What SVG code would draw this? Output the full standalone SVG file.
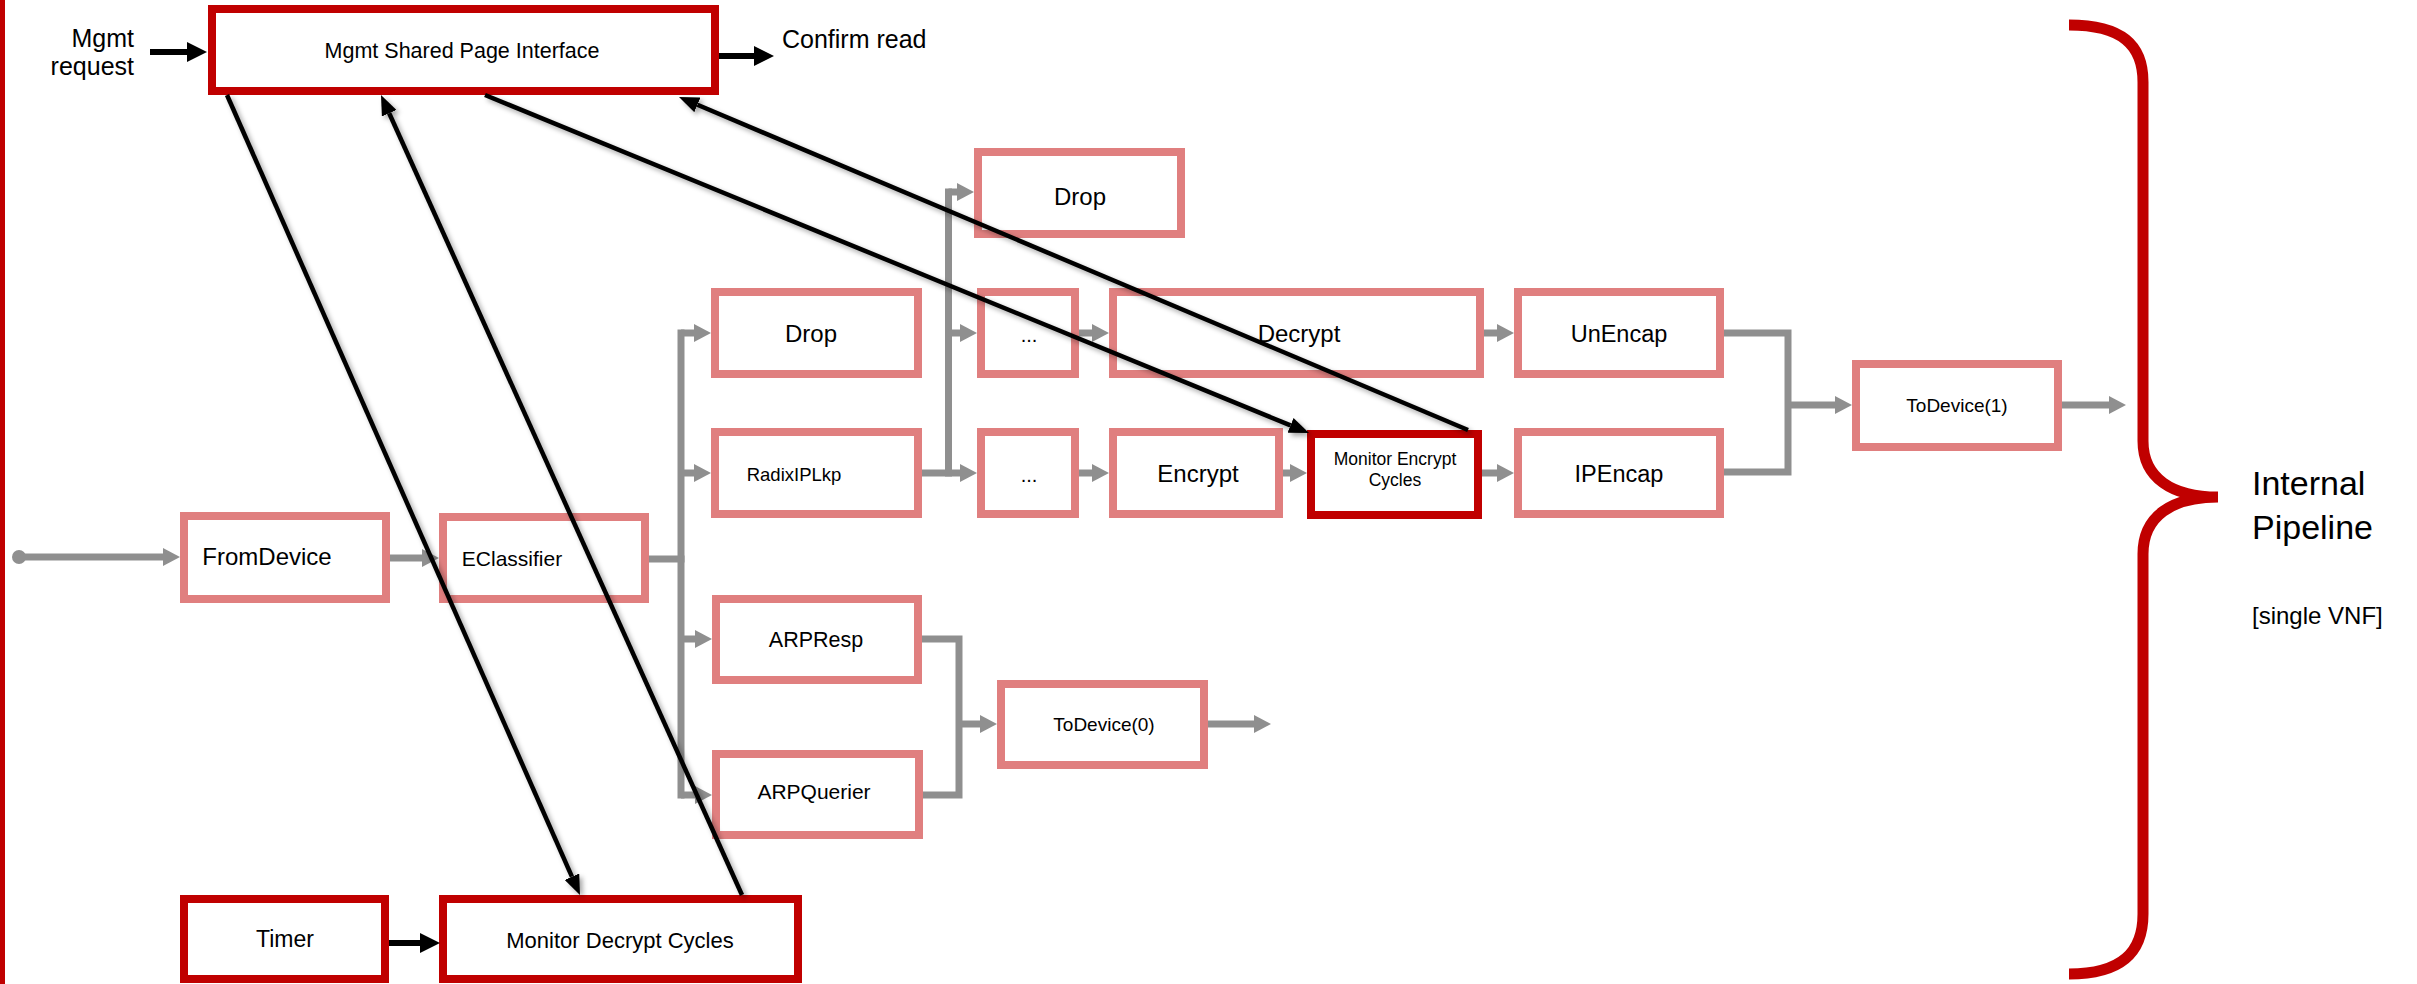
<svg xmlns="http://www.w3.org/2000/svg" width="2417" height="984" viewBox="0 0 2417 984">
<style>
  .pink { fill: #ffffff; stroke: #E07F7F; stroke-width: 8; }
  .dark { fill: #ffffff; stroke: #C00000; stroke-width: 8; }
  .lbl { font-family: "Liberation Sans", Arial, sans-serif; fill: #000000; text-anchor: middle; }
  .gray { fill: none; stroke: #8F8F8F; stroke-width: 7; }
  .garrow { fill: none; stroke: #8F8F8F; stroke-width: 7; marker-end: url(#gHead); }
  .black { fill: none; stroke: #000000; stroke-width: 4.5; marker-end: url(#bHead); filter: url(#shadow); }
  .bthick { fill: none; stroke: #000000; stroke-width: 6; marker-end: url(#bHead2); }
</style>
<defs>
  <marker id="gHead" markerUnits="userSpaceOnUse" markerWidth="17" markerHeight="18" refX="0" refY="9" orient="auto">
    <path d="M0,0 L17,9 L0,18 z" fill="#8F8F8F"/>
  </marker>
  <marker id="bHead" markerUnits="userSpaceOnUse" markerWidth="20" markerHeight="16" refX="0" refY="8" orient="auto">
    <path d="M0,0 L20,8 L0,16 z" fill="#000000"/>
  </marker>
  <marker id="bHead2" markerUnits="userSpaceOnUse" markerWidth="20" markerHeight="20" refX="0" refY="10" orient="auto">
    <path d="M0,0 L20,10 L0,20 z" fill="#000000"/>
  </marker>
  <filter id="shadow" x="-20%" y="-20%" width="140%" height="140%">
    <feDropShadow dx="3" dy="3" stdDeviation="2.5" flood-color="#000000" flood-opacity="0.35"/>
  </filter>
</defs>
<rect x="0" y="0" width="2417" height="984" fill="#ffffff"/>
<rect x="0" y="0" width="5" height="984" fill="#C00000"/>

<g id="mgmt">
  <rect class="dark" x="212" y="9" width="503" height="82"/>
  <text class="lbl" x="462" y="58" font-size="21.5">Mgmt Shared Page Interface</text>
</g>
<g id="mgmt-request">
  <text class="lbl" x="134" y="47" font-size="25" style="text-anchor:end">Mgmt</text>
  <text class="lbl" x="134" y="75" font-size="25" style="text-anchor:end">request</text>
</g>
<g id="confirm-read">
  <text class="lbl" x="782" y="48" font-size="25" style="text-anchor:start">Confirm read</text>
</g>

<g id="drop1">
  <rect class="pink" x="978" y="152" width="203" height="82"/>
  <text class="lbl" x="1080" y="205" font-size="24">Drop</text>
</g>
<g id="drop2">
  <rect class="pink" x="715" y="292" width="203" height="82"/>
  <text class="lbl" x="811" y="342" font-size="24">Drop</text>
</g>
<g id="dots1">
  <rect class="pink" x="981" y="292" width="94" height="82"/>
  <text class="lbl" x="1029" y="342" font-size="20">...</text>
</g>
<g id="decrypt">
  <rect class="pink" x="1113" y="292" width="367" height="82"/>
  <text class="lbl" x="1299" y="342" font-size="24">Decrypt</text>
</g>
<g id="unencap">
  <rect class="pink" x="1518" y="292" width="202" height="82"/>
  <text class="lbl" x="1619" y="342" font-size="23.5">UnEncap</text>
</g>
<g id="radix">
  <rect class="pink" x="715" y="432" width="203" height="82"/>
  <text class="lbl" x="794" y="481" font-size="18.5">RadixIPLkp</text>
</g>
<g id="dots2">
  <rect class="pink" x="981" y="432" width="94" height="82"/>
  <text class="lbl" x="1029" y="482" font-size="20">...</text>
</g>
<g id="encrypt">
  <rect class="pink" x="1113" y="432" width="166" height="82"/>
  <text class="lbl" x="1198" y="482" font-size="24">Encrypt</text>
</g>
<g id="monitor-encrypt">
  <rect class="dark" x="1311" y="434" width="167" height="81"/>
  <text class="lbl" x="1395" y="465" font-size="17.5">Monitor Encrypt</text>
  <text class="lbl" x="1395" y="486" font-size="17.5">Cycles</text>
</g>
<g id="ipencap">
  <rect class="pink" x="1518" y="432" width="202" height="82"/>
  <text class="lbl" x="1619" y="482" font-size="23.5">IPEncap</text>
</g>
<g id="todevice1">
  <rect class="pink" x="1856" y="364" width="202" height="83"/>
  <text class="lbl" x="1957" y="412" font-size="19">ToDevice(1)</text>
</g>
<g id="fromdevice">
  <rect class="pink" x="184" y="516" width="202" height="83"/>
  <text class="lbl" x="267" y="565" font-size="24">FromDevice</text>
</g>
<g id="eclassifier">
  <rect class="pink" x="443" y="517" width="202" height="82"/>
  <text class="lbl" x="512" y="566" font-size="21">EClassifier</text>
</g>
<g id="arpresp">
  <rect class="pink" x="716" y="599" width="202" height="81"/>
  <text class="lbl" x="816" y="647" font-size="21.5">ARPResp</text>
</g>
<g id="arpquerier">
  <rect class="pink" x="716" y="754" width="203" height="81"/>
  <text class="lbl" x="814" y="799" font-size="21">ARPQuerier</text>
</g>
<g id="todevice0">
  <rect class="pink" x="1001" y="684" width="203" height="81"/>
  <text class="lbl" x="1104" y="731" font-size="19">ToDevice(0)</text>
</g>
<g id="timer">
  <rect class="dark" x="184" y="899" width="201" height="80"/>
  <text class="lbl" x="285" y="947" font-size="23">Timer</text>
</g>
<g id="monitor-decrypt">
  <rect class="dark" x="443" y="899" width="355" height="80"/>
  <text class="lbl" x="620" y="948" font-size="22">Monitor Decrypt Cycles</text>
</g>

<g id="brace">
  <path d="M2069,25 C2122,25 2143,45 2143,82 L2143,441 C2143,478 2172,497 2218,497 C2172,497 2143,516 2143,554 L2143,914 C2143,952 2122,974 2069,974" fill="none" stroke="#C00000" stroke-width="11"/>
</g>
<g id="internal-pipeline">
  <text class="lbl" x="2252" y="495" font-size="34" style="text-anchor:start">Internal</text>
  <text class="lbl" x="2252" y="539" font-size="34" style="text-anchor:start">Pipeline</text>
  <text class="lbl" x="2252" y="624" font-size="24" style="text-anchor:start">[single VNF]</text>
</g>

<g id="connectors">
  <circle cx="19" cy="557" r="7" fill="#8F8F8F"/>
  <path class="garrow" d="M19,557 H163"/>
  <path class="garrow" d="M390,558 H422"/>
  <path class="gray" d="M649,559 H684.5"/>
  <path class="gray" d="M681,329.5 V798.5"/>
  <path class="garrow" d="M681,333 H694"/>
  <path class="garrow" d="M681,473 H694"/>
  <path class="garrow" d="M681,639 H695"/>
  <path class="garrow" d="M681,795 H695"/>
  <path class="gray" d="M948.5,188.5 V476.5"/>
  <path class="garrow" d="M922,473 H960"/>
  <path class="garrow" d="M948.5,192 H957"/>
  <path class="garrow" d="M948.5,333 H960"/>
  <path class="garrow" d="M1079,333 H1092"/>
  <path class="garrow" d="M1079,473 H1092"/>
  <path class="garrow" d="M1283,473 H1290"/>
  <path class="garrow" d="M1484,333 H1497"/>
  <path class="garrow" d="M1482,473 H1497"/>
  <path class="gray" d="M1724,333 H1788 V472 H1724"/>
  <path class="garrow" d="M1788,405 H1835"/>
  <path class="garrow" d="M2062,405 H2109"/>
  <path class="gray" d="M922,639 H959 V795 H923"/>
  <path class="garrow" d="M959,724 H980"/>
  <path class="garrow" d="M1208,724 H1254"/>

  <path class="bthick" d="M150,52 H187"/>
  <path class="bthick" d="M719,56 H754"/>
  <path class="bthick" d="M389,943 H420"/>

  <path class="black" d="M227,95 L571.9,876.7"/>
  <path class="black" d="M742,895 L389.2,113.2"/>
  <path class="black" d="M485,95 L1290.5,425.4"/>
  <path class="black" d="M1468,430 L697.4,104.8"/>
</g>
</svg>
